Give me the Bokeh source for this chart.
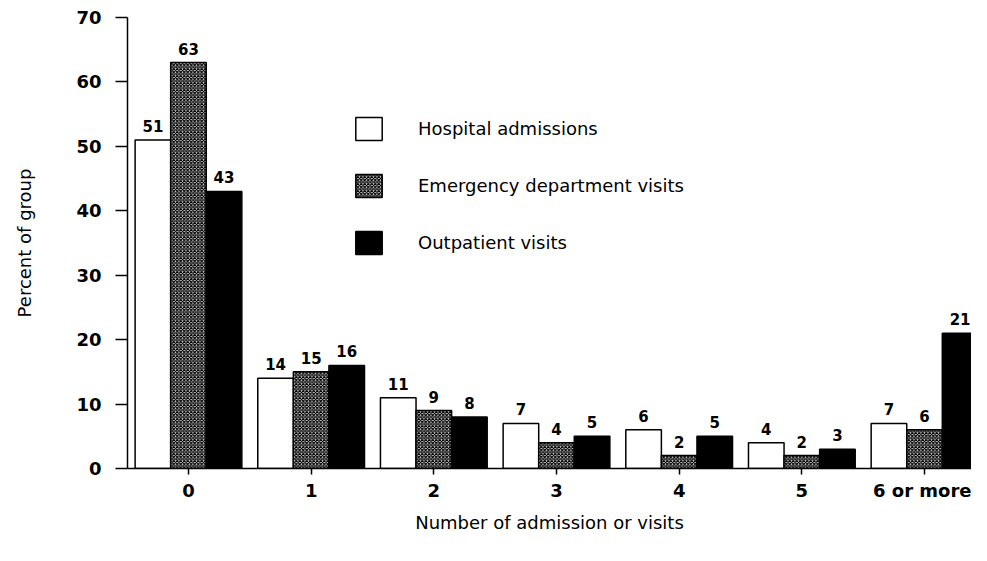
from bokeh.plotting import figure
from bokeh.models import Range1d, FixedTicker, Legend, LegendItem, ColumnDataSource, LabelSet
from bokeh.embed import file_html
from bokeh.resources import INLINE
from bokeh.core.properties import value

categories = ["0", "1", "2", "3", "4", "5", "6 or more"]
hospital = [51, 14, 11, 7, 6, 4, 7]
emergency = [63, 15, 9, 4, 2, 2, 6]
outpatient = [43, 16, 8, 5, 5, 3, 21]
y_ticks = [0, 10, 20, 30, 40, 50, 60, 70]

xs = list(range(len(categories)))
bw = 0.29

p = figure(width=971, height=545, output_backend="svg", toolbar_location=None,
           x_range=Range1d(-0.497, 6.383), y_range=Range1d(0, 70),
           min_border_left=127, min_border_right=0, min_border_top=17, min_border_bottom=77)
p.outline_line_color = None
p.xgrid.visible = False
p.ygrid.visible = False
p.background_fill_color = "white"

def src(vals, off):
    return ColumnDataSource(dict(x=[x + off for x in xs], top=vals, lab=[str(v) for v in vals]))

s1 = src(hospital, -bw)
s2 = src(emergency, 0)
s3 = src(outpatient, bw)

r1 = p.vbar(x="x", top="top", width=bw, source=s1, fill_color="white", line_color="black", line_width=1.5)
r2 = p.vbar(x="x", top="top", width=bw, source=s2, fill_color="#d4d4d4", line_color="black", line_width=1.5,
            hatch_pattern="x", hatch_color="black", hatch_scale=3.5, hatch_weight=1.2)
r3 = p.vbar(x="x", top="top", width=bw, source=s3, fill_color="black", line_color="black", line_width=1.5)

for s in (s1, s2, s3):
    p.add_layout(LabelSet(x="x", y="top", text="lab", source=s, text_align="center", text_baseline="bottom",
                          y_offset=8, text_font=value("DejaVu Sans"), text_font_style="bold",
                          text_font_size="15px", text_color="black"))

legend = Legend(items=[LegendItem(label="Hospital admissions", renderers=[r1]),
                       LegendItem(label="Emergency department visits", renderers=[r2]),
                       LegendItem(label="Outpatient visits", renderers=[r3])],
                location=(225, 211), glyph_width=33, glyph_height=29, label_standoff=33, spacing=28,
                padding=0, margin=0, border_line_color=None, background_fill_alpha=0,
                label_text_font="DejaVu Sans", label_text_font_size="18px", label_height=29,
                label_text_color="black")
p.add_layout(legend, "center")

for ax in (p.xaxis[0], p.yaxis[0]):
    ax.axis_line_width = 1.5
    ax.axis_line_color = "black"
    ax.major_tick_line_color = "black"
    ax.major_tick_line_width = 1.5
    ax.minor_tick_line_color = None
    ax.major_tick_in = 0
    ax.major_label_text_font = "DejaVu Sans"
    ax.major_label_text_font_style = "bold"
    ax.major_label_text_font_size = "18px"
    ax.major_label_text_color = "black"
    ax.axis_label_text_font = "DejaVu Sans"
    ax.axis_label_text_font_style = "normal"
    ax.axis_label_text_font_size = "18px"
    ax.axis_label_text_color = "black"

p.xaxis.ticker = FixedTicker(ticks=xs)
p.xaxis.major_label_overrides = {i: c for i, c in enumerate(categories)}
p.xaxis.major_tick_out = 6
p.xaxis.major_label_standoff = 5
p.xaxis.axis_label = "Number of admission or visits"
p.xaxis.axis_label_standoff = 8

p.yaxis.ticker = FixedTicker(ticks=y_ticks)
p.yaxis.major_tick_out = 12
p.yaxis.major_label_standoff = 14
p.yaxis.axis_label = "Percent of group"
p.yaxis.axis_label_standoff = 38

open("out.html", "w").write(file_html(p, INLINE))
